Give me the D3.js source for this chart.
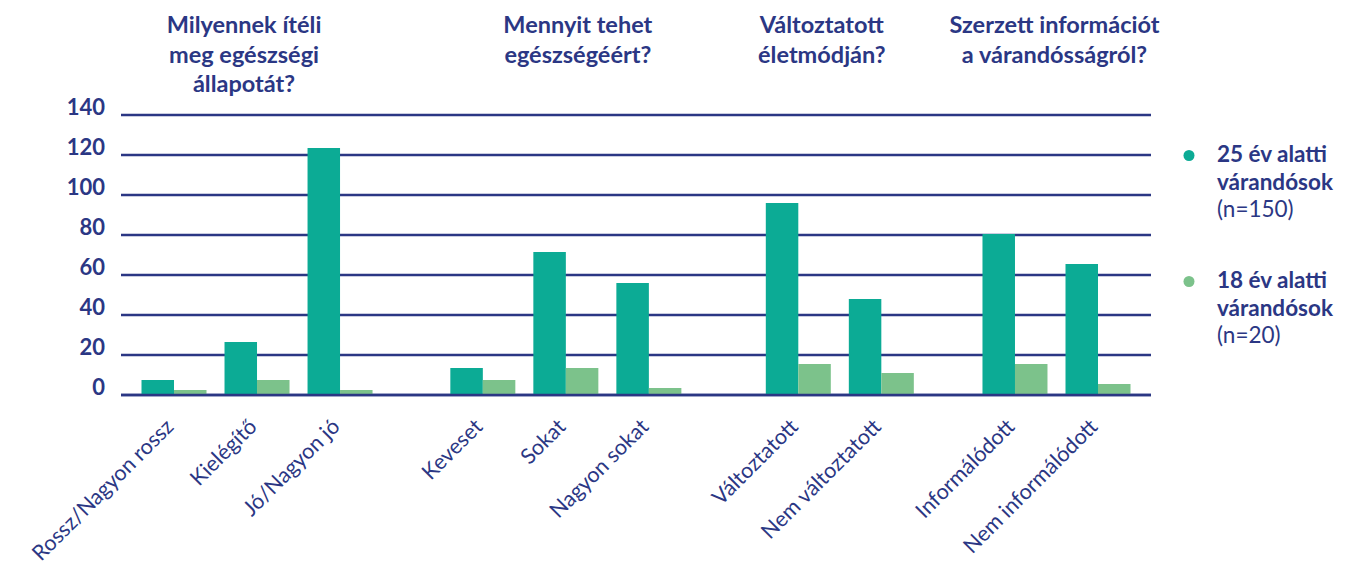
<!DOCTYPE html>
<html>
<head>
<meta charset="utf-8">
<script src="https://cdn.jsdelivr.net/npm/d3@7"></script>
<style>
  html, body { margin: 0; padding: 0; background: #ffffff; }
  svg { display: block; font-family: Lato, "Open Sans", sans-serif; }
</style>
</head>
<body>
<svg id="chart" width="1347" height="568"></svg>
<script>
// ---- data ----
const categories = ["Rossz/Nagyon rossz", "Kielégítő", "Jó/Nagyon jó",
  "Keveset", "Sokat", "Nagyon sokat",
  "Változtatott", "Nem változtatott",
  "Informálódott", "Nem informálódott"];
const categoryGroup = [0, 0, 0, 1, 1, 1, 2, 2, 3, 3];
const groupTitles = [
  ["Milyennek ítéli", "meg egészségi", "állapotát?"],
  ["Mennyit tehet", "egészségéért?"],
  ["Változtatott", "életmódján?"],
  ["Szerzett információt", "a várandósságról?"]
];
const under25 = [7.5, 26.5, 123.5, 13.5, 71.5, 56, 96, 48, 80.5, 65.5];
const under18 = [2.5, 7.5, 2.5, 7.5, 13.5, 3.5, 15.5, 11, 15.5, 5.5];
const yTicks = [0, 20, 40, 60, 80, 100, 120, 140];
const seriesNames = [["25 év alatti", "várandósok"], ["18 év alatti", "várandósok"]];
const seriesNotes = ["(n=150)", "(n=20)"];

// ---- layout / style ----
const navy = "#2b3784";
const colors = ["#0cab95", "#7cc28b"];
const groupGaps = [0.72, 0.80, 0.61];      // extra gap (in steps) between groups
const titleShift = [-13, 12, -18, -2];       // title nudges (px)
const barW = 32.5;

const svg = d3.select("#chart");

// slot index for each category (with gaps between groups)
const slots = categories.map((c, i) => {
  const g = categoryGroup[i];
  let extra = 0;
  for (let k = 0; k < g; k++) extra += groupGaps[k];
  return i + extra;
});

const x = d3.scaleLinear().domain([0, d3.max(slots)]).range([174, 1098]);
const y = d3.scaleLinear().domain([0, 140]).range([395, 115]);

const gridX0 = 121, gridX1 = 1151;

// gridlines
svg.append("g").selectAll("line").data(yTicks).join("line")
  .attr("x1", gridX0).attr("x2", gridX1)
  .attr("y1", d => y(d)).attr("y2", d => y(d))
  .attr("stroke", navy).attr("stroke-width", 2.6);

// y labels
svg.append("g").selectAll("text").data(yTicks).join("text")
  .attr("x", 105).attr("y", d => y(d) - 0.5)
  .attr("text-anchor", "end")
  .attr("font-weight", 700).attr("font-size", 22)
  .attr("fill", navy)
  .text(d => d);

// bars
const barsG = svg.append("g");
barsG.selectAll("rect.s0").data(under25).join("rect")
  .attr("class", "s0")
  .attr("x", (d, i) => x(slots[i]) - barW)
  .attr("width", barW)
  .attr("y", d => y(d))
  .attr("height", d => y(0) - y(d) - 1)
  .attr("fill", colors[0]);
barsG.selectAll("rect.s1").data(under18).join("rect")
  .attr("class", "s1")
  .attr("x", (d, i) => x(slots[i]))
  .attr("width", barW)
  .attr("y", d => y(d))
  .attr("height", d => y(0) - y(d) - 1)
  .attr("fill", colors[1]);

// baseline on top
svg.append("line")
  .attr("x1", gridX0).attr("x2", gridX1)
  .attr("y1", y(0)).attr("y2", y(0))
  .attr("stroke", navy).attr("stroke-width", 2.6);

// x labels
svg.append("g").selectAll("text").data(categories).join("text")
  .attr("transform", (d, i) => `translate(${x(slots[i]) + 1},${428}) rotate(-45)`)
  .attr("text-anchor", "end")
  .attr("font-size", 21.5)
  .attr("fill", navy)
  .text(d => d);

// group titles
groupTitles.forEach((lines, g) => {
  const idx = categoryGroup.map((gg, i) => gg === g ? i : -1).filter(i => i >= 0);
  const cx = (x(slots[idx[0]]) + x(slots[idx[idx.length - 1]])) / 2 + titleShift[g];
  const t = svg.append("text")
    .attr("text-anchor", "middle")
    .attr("font-weight", 700).attr("font-size", 23.5)
    .attr("fill", navy);
  lines.forEach((ln, k) => {
    t.append("tspan").attr("x", cx).attr("y", 33 + k * 29.5).text(ln);
  });
});

// legend
const legendBase = [162, 288];
seriesNames.forEach((lines, s) => {
  const by = legendBase[s];
  svg.append("circle").attr("cx", 1189).attr("cy", by - 6.5).attr("r", 5.5).attr("fill", colors[s]);
  const t = svg.append("text").attr("fill", navy).attr("font-size", 22.5);
  lines.forEach((ln, k) => {
    t.append("tspan").attr("x", 1217).attr("y", by + k * 27.5)
      .attr("font-weight", 700).text(ln);
  });
  t.append("tspan").attr("x", 1217).attr("y", by + 2 * 27.5)
    .attr("font-weight", 400).text(seriesNotes[s]);
});
</script>
</body>
</html>
